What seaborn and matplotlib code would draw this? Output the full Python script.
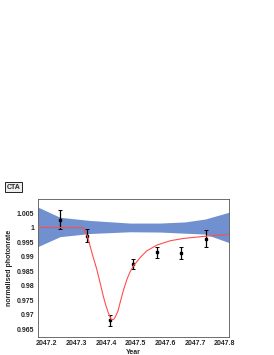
import numpy as np
import pandas as pd
import seaborn as sns
import matplotlib.pyplot as plt
from matplotlib.ticker import MultipleLocator, FuncFormatter

# measured photon rate points
year = [2047.246, 2047.335, 2047.413, 2047.492, 2047.573, 2047.654, 2047.736]
rate = [1.0028, 0.9972, 0.9680, 0.9874, 0.9915, 0.9913, 0.9962]
rate_err = [0.0032, 0.0023, 0.0019, 0.0017, 0.0019, 0.0022, 0.0030]

# fitted model curve
model_year = [2047.171, 2047.322, 2047.337, 2047.353, 2047.369, 2047.381, 2047.391,
              2047.400, 2047.408, 2047.417, 2047.425, 2047.431, 2047.440, 2047.447,
              2047.458, 2047.470, 2047.481, 2047.492, 2047.515, 2047.537, 2047.571,
              2047.616, 2047.661, 2047.728, 2047.813]
model_rate = [1.0001, 1.0000, 0.9972, 0.9912, 0.9856, 0.9806, 0.9763,
              0.9730, 0.9706, 0.9684, 0.9683, 0.9692, 0.9712, 0.9740,
              0.9782, 0.9821, 0.9848, 0.9868, 0.9897, 0.9920, 0.9940,
              0.9955, 0.9963, 0.9970, 0.9977]

# uncertainty band
band_year = [2047.171, 2047.245, 2047.346, 2047.481, 2047.582, 2047.666, 2047.734, 2047.813]
band_hi = [1.0071, 1.0036, 1.0025, 1.0016, 1.0016, 1.0020, 1.0030, 1.0053]
band_lo = [0.9935, 0.9969, 0.9980, 0.9986, 0.9985, 0.9981, 0.9978, 0.9949]

sns.set_style('white')
plt.rcParams['font.family'] = ['Liberation Sans', 'DejaVu Sans']

fig = plt.figure(figsize=(2.74, 3.55), dpi=100)
ax = fig.add_axes([0.1387, 0.0507, 0.696, 0.3879])

ax.fill_between(band_year, band_lo, band_hi, color='#7090d0', lw=0, zorder=1)

ax.errorbar(year, rate, yerr=rate_err, fmt='s', color='black', ms=1.8,
            elinewidth=0.9, capsize=1.2, capthick=0.7, zorder=2)

model = pd.DataFrame({'year': model_year, 'rate': model_rate})
sns.lineplot(data=model, x='year', y='rate', color='#ff4d4d', lw=0.8, ax=ax, zorder=3)

ax.set_xlim(2047.171, 2047.813)
ax.set_ylim(0.9623, 1.0098)
ax.xaxis.set_major_locator(MultipleLocator(0.1))
ax.xaxis.set_minor_locator(MultipleLocator(0.01))
ax.yaxis.set_major_locator(MultipleLocator(0.005))
ax.yaxis.set_minor_locator(MultipleLocator(0.001))
ax.xaxis.set_major_formatter(FuncFormatter(lambda v, p: '%.1f' % v))
ax.yaxis.set_major_formatter(FuncFormatter(lambda v, p: '%g' % round(v, 4)))

ax.tick_params(which='both', direction='in', top=False, right=False,
               labelsize=5, width=0.5, color='#333333', pad=2.5)
ax.tick_params(which='major', length=3.5)
ax.tick_params(which='minor', length=1.8)
for lab in ax.get_xticklabels() + ax.get_yticklabels():
    lab.set_fontweight('bold')
for s in ax.spines.values():
    s.set_linewidth(0.6)
    s.set_color('#555555')

ax.set_xlabel('Year', fontsize=5, fontweight='bold', labelpad=1)
ax.set_ylabel('normalised photonrate', fontsize=5, fontweight='bold', labelpad=3)

fig.text(0.049, 0.473, 'CTA', fontsize=5, fontweight='bold', ha='center', va='center',
         bbox=dict(boxstyle='square,pad=0.25', fc='#eeeeee', ec='black', lw=0.6))

fig.savefig('out.png', dpi=100)
